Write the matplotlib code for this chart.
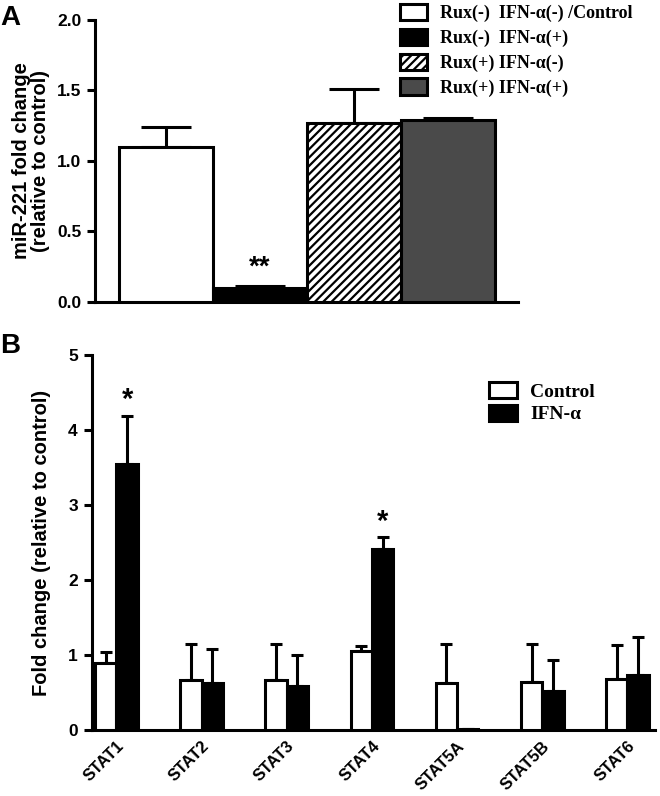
import matplotlib
matplotlib.use("Agg")
import matplotlib.pyplot as plt
import matplotlib.transforms as mtransforms
import numpy as np

plt.rcParams["font.family"] = ["Liberation Sans", "DejaVu Sans"]
plt.rcParams["font.weight"] = "bold"
plt.rcParams["hatch.linewidth"] = 1.6

# panel A data
a_labels = ["Rux(-)  IFN-\u03b1(-) /Control", "Rux(-)  IFN-\u03b1(+)",
            "Rux(+) IFN-\u03b1(-)", "Rux(+) IFN-\u03b1(+)"]
a_means = [1.10, 0.10, 1.27, 1.29]
a_tops = [1.24, 0.115, 1.51, 1.305]

# panel B data
b_genes = ["STAT1", "STAT2", "STAT3", "STAT4", "STAT5A", "STAT5B", "STAT6"]
b_ctrl = [0.89, 0.66, 0.67, 1.05, 0.63, 0.64, 0.68]
b_ctrl_top = [1.04, 1.14, 1.14, 1.12, 1.15, 1.15, 1.13]
b_ifn = [3.54, 0.62, 0.59, 2.41, 0.015, 0.52, 0.73]
b_ifn_top = [4.19, 1.08, 1.00, 2.57, 0.015, 0.93, 1.24]
b_stars = ["*", "", "", "*", "", "", ""]

fig = plt.figure(figsize=(6.6, 7.96), dpi=100)

# ---- panel A ----
axA = fig.add_axes([0.144, 0.6206, 0.641, 0.3544])
xa = np.arange(len(a_means))
faces = ["white", "black", "white", "#4a4a4a"]
hatches = [None, None, "////", None]
for i in range(len(a_means)):
    axA.bar(xa[i], a_means[i], width=1.0, color=faces[i], edgecolor="black",
            linewidth=2.2, hatch=hatches[i], label=a_labels[i], zorder=3)
a_err = np.array(a_tops) - np.array(a_means)
axA.errorbar(xa, a_means, yerr=[np.zeros_like(a_err), a_err], fmt="none",
             ecolor="black", elinewidth=2.2, capsize=18, capthick=2.2, zorder=2)
axA.text(1, a_tops[1] + 0.04, "**", ha="center", va="bottom", fontsize=20)
axA.set_xlim(-0.755, 3.745)
axA.set_ylim(0, 2.0)
axA.set_yticks([0, 0.5, 1.0, 1.5, 2.0])
axA.set_yticklabels(["0.0", "0.5", "1.0", "1.5", "2.0"])
axA.set_xticks([])
axA.set_ylabel("miR-221 fold change\n(relative to control)", fontsize=14.5,
               fontweight="bold", labelpad=5, linespacing=1.0)
axA.legend(loc="upper left", bbox_to_anchor=(400 / 660, 1 - 4 / 796),
           bbox_transform=fig.transFigure, frameon=False,
           prop={"family": "Liberation Serif", "weight": "bold", "size": 13},
           handlelength=1.5, handleheight=1.0, handletextpad=0.72,
           labelspacing=0.36, borderpad=0, borderaxespad=0)

# ---- panel B ----
axB = fig.add_axes([0.139, 0.083, 0.853, 0.471])
xb = np.arange(len(b_genes))
w = 0.25
axB.bar(xb - w / 2, b_ctrl, width=w, color="white", edgecolor="black",
        linewidth=2.2, label="Control", zorder=3)
axB.bar(xb + w / 2, b_ifn, width=w, color="black", edgecolor="black",
        linewidth=2.2, label="IFN-\u03b1", zorder=3)
c_err = np.array(b_ctrl_top) - np.array(b_ctrl)
i_err = np.array(b_ifn_top) - np.array(b_ifn)
axB.errorbar(xb - w / 2, b_ctrl, yerr=[np.zeros_like(c_err), c_err], fmt="none",
             ecolor="black", elinewidth=2.2, capsize=4.5, capthick=2.2, zorder=2)
axB.errorbar(xb + w / 2, b_ifn, yerr=[np.zeros_like(i_err), i_err], fmt="none",
             ecolor="black", elinewidth=2.2, capsize=4.5, capthick=2.2, zorder=2)
for i, s in enumerate(b_stars):
    if s:
        axB.text(xb[i] + w / 2, b_ifn_top[i] + 0.02, s, ha="center", va="bottom",
                 fontsize=21)
axB.set_xlim(-0.29, 6.32)
axB.set_ylim(0, 5)
axB.set_yticks(range(6))
axB.set_xticks(xb)
axB.set_xticklabels(b_genes, rotation=45, ha="right", va="top",
                    rotation_mode="anchor", fontsize=12)
shift = mtransforms.ScaledTranslation(15 / 100, 0, fig.dpi_scale_trans)
for lab in axB.get_xticklabels():
    lab.set_transform(lab.get_transform() + shift)
axB.tick_params(axis="x", length=0, pad=6)
axB.set_ylabel("Fold change (relative to control)", fontsize=14.5,
               fontweight="bold", labelpad=12)
axB.legend(loc="upper left", bbox_to_anchor=(489 / 660, 1 - 382 / 796),
           bbox_transform=fig.transFigure, frameon=False,
           prop={"family": "Liberation Serif", "weight": "bold", "size": 14},
           handlelength=1.45, handleheight=0.9, handletextpad=0.67,
           labelspacing=0.2, borderpad=0, borderaxespad=0)

for ax in (axA, axB):
    for side in ("top", "right"):
        ax.spines[side].set_visible(False)
    for side in ("left", "bottom"):
        ax.spines[side].set_linewidth(2.2)
    ax.tick_params(axis="y", width=2.2, length=6, labelsize=12.5, pad=4,
                   direction="out")

fig.text(0.0, 1 - 5 / 796, "A", fontsize=20, fontweight="bold", va="top", ha="left")
fig.text(0.0, 1 - 333 / 796, "B", fontsize=20, fontweight="bold", va="top", ha="left")

fig.savefig("out.png", dpi=100)
